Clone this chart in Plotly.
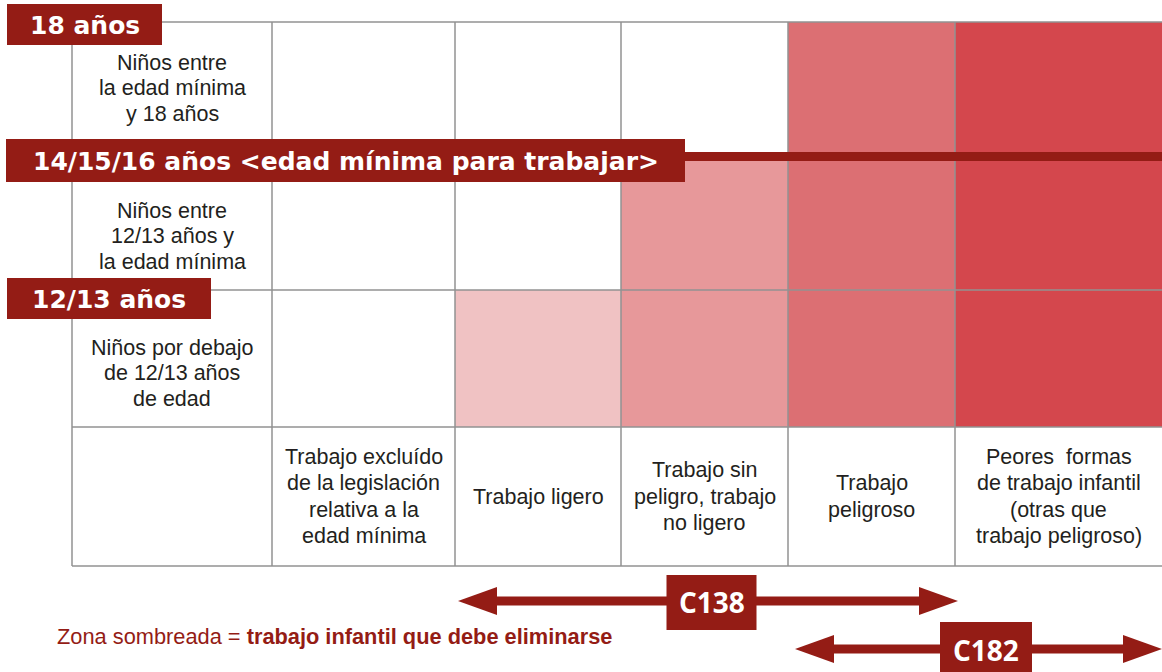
import plotly.graph_objects as go

# ---------------- data ----------------
work_types = [
    "Trabajo excluído<br>de la legislación<br>relativa a la<br>edad mínima",
    "Trabajo ligero",
    "Trabajo sin<br>peligro, trabajo<br>no ligero",
    "Trabajo<br>peligroso",
    "Peores  formas<br>de trabajo infantil<br>(otras que<br>trabajo peligroso)",
]
age_groups = [
    "Niños entre<br>la edad mínima<br>y 18 años",
    "Niños entre<br>12/13 años y<br>la edad mínima",
    "Niños por debajo<br>de 12/13 años<br>de edad",
]
age_thresholds = ["18 años", "14/15/16 años <edad mínima para trabajar>", "12/13 años"]
# shade level per (age group, work type): 0 = not child labour to abolish
shade_levels = [
    [0, 0, 0, 3, 4],
    [0, 0, 2, 3, 4],
    [0, 1, 2, 3, 4],
]
shade_colors = ["#FFFFFF", "#F0C2C3", "#E7989A", "#DC6F73", "#D4474D"]
conventions = ["C138", "C182"]
convention_first = [1, 3]   # first work type covered
convention_last = [3, 4]    # last work type covered
note_plain = "Zona sombreada = "
note_bold = "trabajo infantil que debe eliminarse"

# ---------------- layout constants ----------------
W, H = 1162, 672
COL_EDGES = [72, 272, 455, 621, 788, 955, 1162]
ROW_EDGES = [22, 157, 290, 427, 566]
ROW_LABEL_Y = [88, 236, 373]
DARK = "#941C15"
GRID = "#929292"
TXT_FONT = "Liberation Sans, Arial, sans-serif"
BOLD_FONT = "DejaVu Sans, sans-serif"
TXT_SIZE = 21.5
TXT_COLOR = "#231F20"

fig = go.Figure()

n = len(shade_colors)
cscale = []
for k, c in enumerate(shade_colors):
    cscale.append([k / n, c])
    cscale.append([(k + 1) / n, c])

fig.add_trace(go.Heatmap(
    x=COL_EDGES[1:], y=ROW_EDGES[:len(age_groups) + 1], z=shade_levels,
    colorscale=cscale, zmin=-0.5, zmax=n - 0.5, showscale=False, hoverinfo="skip",
))

# grid lines
gx, gy = [], []
for xe in COL_EDGES[:-1]:
    gx += [xe, xe, None]
    gy += [ROW_EDGES[0], ROW_EDGES[-1], None]
for ye in ROW_EDGES:
    gx += [COL_EDGES[0], COL_EDGES[-1], None]
    gy += [ye, ye, None]
fig.add_trace(go.Scatter(x=gx, y=gy, mode="lines", line=dict(color=GRID, width=1.5),
                         hoverinfo="skip", showlegend=False))

annotations = []
shapes = []


def multiline(text, cx, cy, lh, size=TXT_SIZE, color=TXT_COLOR):
    lines = text.split("<br>")
    m = len(lines)
    for i, ln in enumerate(lines):
        annotations.append(dict(
            x=cx, y=cy + (i - (m - 1) / 2) * lh, text=ln, showarrow=False,
            xanchor="center", yanchor="middle",
            font=dict(family=TXT_FONT, size=size, color=color),
        ))


# row labels
for r, lab in enumerate(age_groups):
    multiline(lab, (COL_EDGES[0] + COL_EDGES[1]) / 2, ROW_LABEL_Y[r], lh=25.5)
# column labels
for c, lab in enumerate(work_types):
    multiline(lab, (COL_EDGES[c + 1] + COL_EDGES[c + 2]) / 2,
              (ROW_EDGES[3] + ROW_EDGES[4]) / 2, lh=26.5)

# age threshold boxes
boxes = [(7, 162, 4, 45), (6, 685, 139, 182), (7, 211, 278, 319)]
for lab, (x0, x1, y0, y1) in zip(age_thresholds, boxes):
    shapes.append(dict(type="rect", x0=x0, x1=x1, y0=y0, y1=y1,
                       fillcolor=DARK, line=dict(width=0), layer="above"))
    annotations.append(dict(x=(x0 + x1) / 2, y=(y0 + y1) / 2 + 1,
                            text=lab.replace("<", "&lt;").replace(">", "&gt;"),
                            showarrow=False, xanchor="center", yanchor="middle",
                            font=dict(family=BOLD_FONT, size=25, color="white", weight=700)))
# extension bar of the minimum-age line
shapes.append(dict(type="rect", x0=685, x1=W, y0=152, y1=161,
                   fillcolor=DARK, line=dict(width=0), layer="above"))

# convention arrows
arrow_y = [601, 649]
tip_off_left = [3, 7]
tip_off_right = [3, 0]
box_cx = [711.5, 986]
box_w = [90, 92]
box_y = [(575, 630), (622, 680)]
for i, conv in enumerate(conventions):
    xl = COL_EDGES[1 + convention_first[i]] + tip_off_left[i]
    xr = COL_EDGES[2 + convention_last[i]] + tip_off_right[i]
    y = arrow_y[i]
    hl, hh, st = 39, 14, 4.5
    shapes.append(dict(type="rect", x0=xl + hl - 2, x1=xr - hl + 2, y0=y - st, y1=y + st,
                       fillcolor=DARK, line=dict(width=0), layer="above"))
    shapes.append(dict(type="path",
                       path=f"M {xl},{y} L {xl + hl},{y - hh} L {xl + hl},{y + hh} Z",
                       fillcolor=DARK, line=dict(width=0), layer="above"))
    shapes.append(dict(type="path",
                       path=f"M {xr},{y} L {xr - hl},{y - hh} L {xr - hl},{y + hh} Z",
                       fillcolor=DARK, line=dict(width=0), layer="above"))
    shapes.append(dict(type="rect", x0=box_cx[i] - box_w[i] / 2, x1=box_cx[i] + box_w[i] / 2,
                       y0=box_y[i][0], y1=box_y[i][1],
                       fillcolor=DARK, line=dict(width=0), layer="above"))
    annotations.append(dict(x=box_cx[i], y=y + 1, text=conv, showarrow=False,
                            xanchor="center", yanchor="middle",
                            font=dict(family="Open Sans, sans-serif", size=28, color="white", weight=700)))

# note
annotations.append(dict(x=55, y=636, text=f"{note_plain}<b>{note_bold}</b>", showarrow=False,
                        xanchor="left", yanchor="middle",
                        font=dict(family=TXT_FONT, size=21.8, color=DARK)))

fig.update_layout(
    width=W, height=H, margin=dict(l=0, r=0, t=0, b=0),
    paper_bgcolor="white", plot_bgcolor="white",
    xaxis=dict(range=[0, W], visible=False, fixedrange=True),
    yaxis=dict(range=[H, 0], visible=False, fixedrange=True),
    shapes=shapes, annotations=annotations, showlegend=False,
)

fig.write_html("out.html", config={"displayModeBar": False},
               post_script="document.body.style.margin='0';document.body.style.overflow='hidden';")
